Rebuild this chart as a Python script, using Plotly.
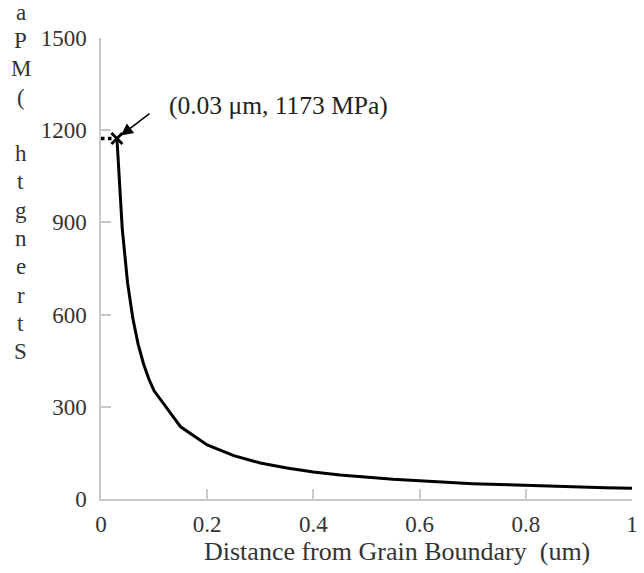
import plotly.graph_objects as go

# Data
distance_um = [0.03, 0.04, 0.05, 0.06, 0.07, 0.08, 0.09, 0.10, 0.15, 0.20, 0.25, 0.30,
               0.35, 0.40, 0.45, 0.50, 0.55, 0.60, 0.65, 0.70, 0.75, 0.80, 0.85,
               0.90, 0.95, 1.00]
strength_mpa = [1173, 880, 704, 587, 503, 440, 391, 352, 235, 176, 141, 117,
                101, 88, 78, 70, 64, 59, 54, 50, 47, 44, 41, 39, 37, 35]
peak_x = 0.03
peak_y = 1173
peak_label = "(0.03 \u03bcm, 1173 MPa)"
x_ticks = [0, 0.2, 0.4, 0.6, 0.8, 1]
x_tick_text = ["0", "0.2", "0.4", "0.6", "0.8", "1"]
y_ticks = [0, 300, 600, 900, 1200, 1500]
x_title = "Distance from Grain Boundary  (um)"
y_title_chars = ["a", "P", "M", "(", "", "h", "t", "g", "n", "e", "r", "t", "S"]

FONT = "Liberation Serif, Times New Roman, serif"
AX = "#c8c8c8"

fig = go.Figure()
fig.add_trace(go.Scatter(x=[0, peak_x], y=[peak_y, peak_y], mode="lines",
                         line=dict(color="black", width=3.5, dash="dot"),
                         showlegend=False, hoverinfo="skip"))
fig.add_trace(go.Scatter(x=distance_um, y=strength_mpa, mode="lines",
                         line=dict(color="black", width=3),
                         showlegend=False))
fig.add_trace(go.Scatter(x=[peak_x], y=[peak_y], mode="markers",
                         marker=dict(symbol="x-thin-open", size=11, color="black",
                                     line=dict(color="black", width=2.8)),
                         showlegend=False))

fig.add_annotation(x=peak_x, y=peak_y, xref="x", yref="y", text="",
                   showarrow=True, ax=34, ay=-26, arrowhead=2, arrowsize=1.6,
                   arrowwidth=1.5, arrowcolor="black", standoff=5)
fig.add_annotation(x=peak_x, y=peak_y, xref="x", yref="y", text=peak_label,
                   showarrow=False, xanchor="left", yanchor="middle",
                   xshift=50, yshift=33,
                   font=dict(family=FONT, size=25.5, color="#222"))
fig.add_annotation(x=0.557, y=-0.113, xref="paper", yref="paper", text=x_title,
                   showarrow=False, xanchor="center", yanchor="middle",
                   font=dict(family=FONT, size=26, color="#333"))

# stacked, upright letters of the y-axis title
for i, ch in enumerate(y_title_chars):
    if not ch:
        continue
    fig.add_annotation(x=-0.151, y=1.056, xref="paper", yref="paper", text=ch,
                       showarrow=False, xanchor="center", yanchor="middle",
                       yshift=-28.3 * i,
                       font=dict(family=FONT, size=23, color="#333"))

fig.update_xaxes(range=[0, 1], tickvals=x_ticks, ticktext=x_tick_text,
                 showgrid=False, zeroline=False, showline=True, linecolor=AX,
                 linewidth=1.5, ticks="inside", ticklen=10, tickcolor=AX,
                 tickwidth=1.5, ticklabelstandoff=4,
                 tickfont=dict(family=FONT, size=23, color="#333"))
fig.update_yaxes(range=[0, 1500], tickvals=y_ticks,
                 showgrid=False, zeroline=False, showline=True, linecolor=AX,
                 linewidth=1.5, ticks="inside", ticklen=10, tickcolor=AX,
                 tickwidth=1.5, ticklabelstandoff=8,
                 tickfont=dict(family=FONT, size=23, color="#333"))

fig.update_layout(width=644, height=573, margin=dict(l=101, r=6, t=38, b=74),
                  plot_bgcolor="white", paper_bgcolor="white")

fig.write_html("out.html")
